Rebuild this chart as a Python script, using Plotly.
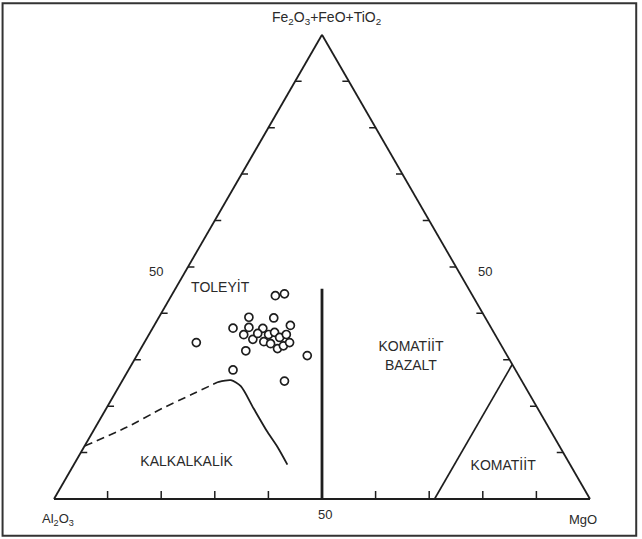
import plotly.graph_objects as go

# Ternary components (percent): a = Fe2O3+FeO+TiO2, b = Al2O3, c = MgO
sample_fe = [33.7, 43.8, 44.2, 39.2, 39.0, 36.8, 37.0, 36.8, 35.4, 34.4, 33.9, 35.4,
             35.9, 34.8, 35.4, 37.4, 33.5, 32.4, 33.0, 31.9, 30.9, 27.8, 25.4, 35.7, 33.7]
sample_al = [56.6, 36.8, 34.9, 44.1, 39.5, 48.2, 45.2, 42.7, 46.9, 45.7, 43.9, 42.2,
             40.9, 40.5, 38.9, 37.2, 42.9, 42.1, 40.7, 48.2, 37.3, 52.7, 44.3, 44.2, 39.2]
sample_mg = [9.7, 19.4, 20.9, 16.8, 21.5, 15.0, 17.9, 20.6, 17.7, 19.9, 22.2, 22.3,
             23.2, 24.7, 25.6, 25.4, 23.7, 25.5, 26.3, 19.8, 31.8, 19.5, 30.3, 20.2, 27.1]

# Tholeiitic / calc-alkaline boundary: dashed (inferred) and solid segments
ca_dash_fe = [11.4, 15.5, 19.5, 22.5, 25.2]
ca_dash_al = [88.6, 78.6, 70.2, 63.1, 56.8]
ca_dash_mg = [0.0, 5.9, 10.4, 14.4, 18.0]
ca_solid_fe = [25.2, 25.6, 24.3, 19.5, 14.4, 11.2, 7.4]
ca_solid_al = [56.8, 54.2, 53.0, 53.0, 52.9, 52.7, 52.7]
ca_solid_mg = [18.0, 20.2, 22.7, 27.5, 32.6, 36.1, 39.8]

# Tholeiite / komatiitic basalt divide (Al2O3 = MgO)
div_fe = [0.0, 45.3]
div_al = [50.0, 27.35]
div_mg = [50.0, 27.35]

# Komatiitic basalt / komatiite divide (MgO = 71)
kom_fe = [0.0, 29.0]
kom_al = [29.0, 0.0]
kom_mg = [71.0, 71.0]

# Field names and their positions
field_names = ["TOLEYİT", "KOMATİİT<br>BAZALT", "KALKALKALİK", "KOMATİİT"]
field_fe = [45.3, 30.6, 7.9, 7.0]
field_al = [46.35, 18.1, 71.3, 12.7]
field_mg = [8.35, 51.3, 20.8, 80.3]

tick_vals = [10, 20, 30, 40, 50, 60, 70, 80, 90]
tick_label = "50"

INK = "#1e1e1e"
TXT = "#2a2a2a"
FONT = "Liberation Sans, Arial, Helvetica, sans-serif"

# Inward tick marks along each edge (vertical on the base, horizontal on the sides)
TL_V = 1.7   # tick length on the base, percent of height
TL_H = 1.2   # tick length on the sides, percent of width
tk_a, tk_b, tk_c = [], [], []
for v in tick_vals:
    # base: MgO = v, going straight up
    tk_a += [0.0, TL_V, None]
    tk_b += [100 - v, 100 - v - TL_V / 2, None]
    tk_c += [v, v - TL_V / 2, None]
    # left side: Fe = v, going right
    tk_a += [v, v, None]
    tk_b += [100 - v, 100 - v - TL_H, None]
    tk_c += [0.0, TL_H, None]
    # right side: Fe = v, going left
    tk_a += [v, v, None]
    tk_b += [0.0, TL_H, None]
    tk_c += [100 - v, 100 - v - TL_H, None]

fig = go.Figure()

fig.add_trace(go.Scatterternary(
    a=tk_a, b=tk_b, c=tk_c, mode="lines", connectgaps=False,
    line=dict(color=INK, width=1.5), hoverinfo="skip", showlegend=False))
fig.add_trace(go.Scatterternary(
    a=div_fe, b=div_al, c=div_mg, mode="lines",
    line=dict(color=INK, width=2.8), hoverinfo="skip", showlegend=False))
fig.add_trace(go.Scatterternary(
    a=kom_fe, b=kom_al, c=kom_mg, mode="lines",
    line=dict(color=INK, width=1.7), hoverinfo="skip", showlegend=False))
fig.add_trace(go.Scatterternary(
    a=ca_dash_fe, b=ca_dash_al, c=ca_dash_mg, mode="lines",
    line=dict(color=INK, width=1.6, dash="8px,5px", shape="spline", smoothing=0.6),
    hoverinfo="skip", showlegend=False))
fig.add_trace(go.Scatterternary(
    a=ca_solid_fe, b=ca_solid_al, c=ca_solid_mg, mode="lines",
    line=dict(color=INK, width=1.8, shape="spline", smoothing=0.7),
    hoverinfo="skip", showlegend=False))
fig.add_trace(go.Scatterternary(
    a=sample_fe, b=sample_al, c=sample_mg, mode="markers",
    marker=dict(symbol="circle", size=8, color="white",
                line=dict(color=INK, width=1.7)),
    showlegend=False))
fig.add_trace(go.Scatterternary(
    a=field_fe, b=field_al, c=field_mg, mode="text", text=field_names,
    textfont=dict(family=FONT, size=14, color=TXT),
    hoverinfo="skip", showlegend=False))

axis_common = dict(
    ticks="", showticklabels=False, showgrid=False, showline=True,
    linecolor=INK, linewidth=1.8, title=dict(text=""),
)

def label(text, x, y, size=13):
    return dict(text=text, x=x, y=y, xref="paper", yref="paper",
                xanchor="center", yanchor="middle", showarrow=False,
                font=dict(family=FONT, size=size, color=TXT))

fig.update_layout(
    width=642, height=539,
    margin=dict(l=0, r=0, t=0, b=0),
    paper_bgcolor="white",
    ternary=dict(
        sum=100,
        bgcolor="white",
        domain=dict(x=[0.0841, 0.9190], y=[0.0742, 0.9354]),
        aaxis=axis_common, baxis=axis_common, caxis=axis_common,
    ),
    shapes=[dict(type="rect", xref="paper", yref="paper",
                 x0=0.004, x1=0.991, y0=0.006, y1=0.994,
                 line=dict(color="#333333", width=2))],
    annotations=[
        label("Fe<sub>2</sub>O<sub>3</sub>+FeO+TiO<sub>2</sub>", 0.509, 0.966, 14),
        label("Al<sub>2</sub>O<sub>3</sub>", 0.090, 0.037),
        label("MgO", 0.908, 0.037),
        label(tick_label, 0.243, 0.496),
        label(tick_label, 0.756, 0.496),
        label(tick_label, 0.506, 0.046),
    ],
)

fig.write_html("out.html")
